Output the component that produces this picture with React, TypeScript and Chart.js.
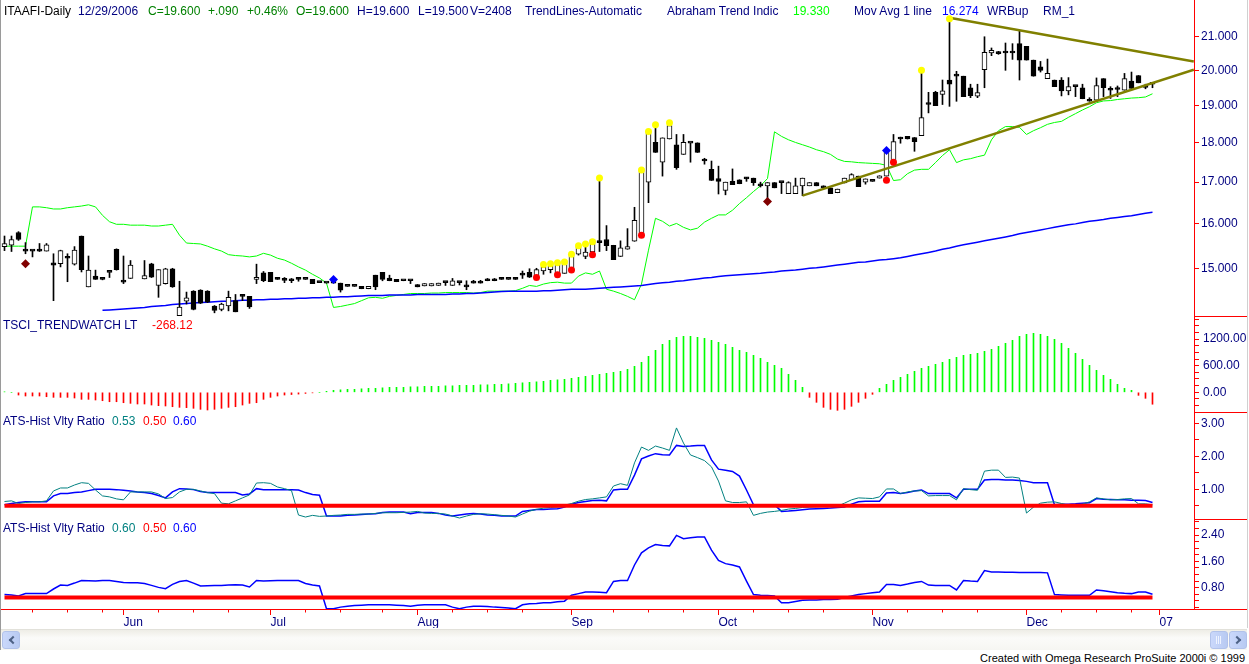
import React, { useEffect, useRef } from "react";
import { Chart, registerables } from "chart.js";

Chart.register(...registerables);

const FONT = '"Liberation Sans", Arial, sans-serif';

// ---------------- price bars (index 0 = first bar in May, 164 = 12/29/2006) ----------------
const OPEN = [
  15.48, 15.51, 15.80, 15.38, 15.38, 15.38, 15.38, 15.12, 15.10, 15.22,
  15.09, 15.72, 14.60, 14.83, 14.76, 14.91, 15.42, 14.70, 14.78, null,
  14.77, 15.10, 14.63, 14.67, 14.99, 14.00, 14.30, 14.51, 14.53, 14.51,
  14.20, 14.13, 14.20, 14.31, 14.40, 14.40, 14.76, 14.90, 14.91, 14.80,
  14.74, 14.73, 14.76, 14.76, 14.76, 14.69, 14.68, 14.68, 14.68, 14.61,
  14.61, 14.61, 14.56, 14.85, 14.91, 14.79, 14.76, 14.73, 14.73, 14.65,
  14.62, 14.62, 14.63, 14.69, 14.63, 14.69, 14.63, 14.68, 14.68, 14.73,
  14.73, 14.80, 14.76, 14.76, 14.85, 14.91, 14.83, 14.94, 14.97, 14.89,
  14.89, 14.97, 15.31, 15.26, 15.36, 15.57, 15.64, 15.51, 15.26, 15.42,
  15.60, 15.74, 17.00, 18.01, 17.50, 18.10, 17.95, 17.70, 17.99, 18.00,
  17.53, 17.32, 17.09, 16.80, 17.02, 17.06, 17.08, 17.10, 16.91, 16.91,
  16.99, 16.99, 16.72, 16.72, 16.91, 16.91, 16.99, 16.91, 16.86, 16.74,
  16.98, 17.06, 17.15, 17.00, 17.02, 17.10, 17.15, 17.48, 18.15, 18.17,
  18.14, 18.19, 19.03, 19.37, 19.31, 19.72, 19.83, 19.83, 19.50, 19.26,
  20.02, 20.51, 20.53, 20.51, 20.51, 20.79, 20.71, 20.30, 20.10, 19.76,
  19.72, 19.72, 19.41, 19.53, 19.50, 19.12, 19.15, 19.76, 19.43, 19.45,
  19.43, 19.69, 19.85, 19.56, 19.60,
];
const HIGH = [
  15.72, 15.72, 15.82, 15.57, 15.39, 15.55, 15.55, 15.32, 15.40, 15.32,
  15.48, 15.72, 15.27, 14.96, 14.77, 14.91, 15.43, 15.27, 15.17, null,
  15.17, 15.11, 14.97, 15.00, 15.00, 14.72, 14.49, 14.52, 14.54, 14.52,
  14.21, 14.26, 14.51, 14.44, 14.44, 14.40, 15.09, 14.93, 14.91, 14.80,
  14.80, 14.78, 14.80, 14.76, 14.76, 14.69, 14.68, 14.68, 14.68, 14.61,
  14.61, 14.61, 14.61, 14.85, 14.91, 14.85, 14.76, 14.73, 14.73, 14.65,
  14.67, 14.67, 14.68, 14.69, 14.78, 14.69, 14.73, 14.74, 14.74, 14.78,
  14.78, 14.80, 14.76, 14.80, 14.94, 14.99, 15.00, 15.08, 15.10, 15.12,
  15.17, 15.31, 15.50, 15.54, 15.64, 17.10, 15.96, 15.51, 15.61, 15.89,
  16.39, 17.32, 18.30, 18.49, 18.13, 18.53, 18.22, 18.22, 17.99, 18.00,
  17.60, 17.53, 17.40, 17.00, 17.33, 17.06, 17.12, 17.10, 17.00, 16.99,
  16.99, 16.99, 17.01, 17.10, 17.10, 16.99, 16.99, 16.91, 16.86, 16.83,
  17.10, 17.21, 17.15, 17.08, 17.02, 17.16, 17.82, 18.22, 18.15, 18.17,
  18.14, 20.00, 19.37, 19.40, 19.72, 21.59, 19.97, 19.83, 19.60, 19.60,
  21.00, 20.66, 20.56, 20.81, 20.79, 21.18, 20.71, 20.30, 20.26, 20.33,
  19.72, 19.79, 19.79, 19.53, 19.60, 19.22, 19.78, 19.76, 19.53, 19.55,
  19.91, 19.95, 19.85, 19.60, 19.60,
];
const LOW = [
  15.39, 15.37, 15.62, 15.32, 15.25, 15.37, 15.38, 14.31, 15.03, 14.71,
  15.07, 14.92, 14.60, 14.76, 14.75, 14.80, 14.96, 14.67, 14.78, null,
  14.77, 14.80, 14.38, 14.66, 14.59, 14.00, 14.24, 14.12, 14.25, 14.27,
  14.06, 14.10, 14.10, 14.08, 14.31, 14.15, 14.67, 14.71, 14.71, 14.76,
  14.69, 14.69, 14.72, 14.76, 14.67, 14.69, 14.68, 14.68, 14.49, 14.61,
  14.61, 14.56, 14.56, 14.54, 14.73, 14.73, 14.71, 14.73, 14.67, 14.60,
  14.62, 14.62, 14.63, 14.63, 14.63, 14.64, 14.54, 14.68, 14.68, 14.73,
  14.73, 14.76, 14.76, 14.76, 14.78, 14.80, 14.79, 14.87, 14.90, 14.89,
  14.89, 14.97, 15.29, 15.21, 15.36, 15.37, 15.39, 15.19, 15.26, 15.42,
  15.60, 15.74, 16.50, 17.75, 17.15, 18.10, 17.32, 17.70, 17.50, 17.75,
  17.45, 17.04, 16.71, 16.69, 16.94, 16.96, 17.02, 16.92, 16.88, 16.49,
  16.86, 16.72, 16.72, 16.72, 16.67, 16.91, 16.91, 16.86, 16.72, 16.74,
  16.98, 17.06, 16.89, 16.95, 17.02, 17.10, 17.15, 17.48, 17.99, 18.10,
  17.78, 18.19, 18.80, 19.00, 19.03, 18.98, 19.12, 19.25, 19.22, 19.22,
  19.50, 20.43, 20.47, 20.00, 20.32, 19.72, 20.30, 19.83, 19.95, 19.76,
  19.53, 19.27, 19.30, 19.25, 19.19, 19.12, 19.15, 19.25, 19.20, 19.25,
  19.43, 19.48, 19.64, 19.47, 19.50,
];
const CLOSE = [
  15.55, 15.64, 15.64, 15.38, 15.38, 15.38, 15.52, 15.07, 15.39, 15.22,
  15.40, 14.97, 14.96, 14.76, 14.76, 14.91, 14.97, 14.70, 15.07, null,
  14.84, 14.81, 14.97, 14.99, 14.60, 14.18, 14.37, 14.13, 14.26, 14.28,
  14.11, 14.24, 14.38, 14.08, 14.40, 14.18, 14.80, 14.73, 14.71, 14.76,
  14.74, 14.73, 14.76, 14.76, 14.67, 14.69, 14.68, 14.68, 14.53, 14.61,
  14.61, 14.56, 14.61, 14.60, 14.76, 14.73, 14.71, 14.73, 14.73, 14.60,
  14.67, 14.67, 14.68, 14.69, 14.73, 14.69, 14.60, 14.68, 14.68, 14.73,
  14.73, 14.76, 14.76, 14.76, 14.85, 14.81, 14.97, 15.03, 15.04, 15.07,
  15.17, 15.29, 15.50, 15.36, 15.64, 15.57, 15.50, 15.19, 15.45, 15.48,
  16.08, 17.31, 18.29, 17.75, 18.13, 18.46, 17.36, 18.01, 17.99, 17.75,
  17.53, 17.04, 17.02, 17.00, 16.94, 16.96, 17.08, 16.99, 16.91, 16.99,
  16.86, 16.99, 16.99, 16.91, 17.10, 16.99, 16.91, 16.86, 16.72, 16.83,
  17.10, 17.19, 16.89, 17.08, 17.02, 17.16, 17.82, 18.03, 18.10, 18.10,
  18.03, 18.67, 19.03, 19.00, 19.41, 19.60, 19.83, 19.25, 19.28, 19.36,
  20.53, 20.59, 20.49, 20.51, 20.51, 20.30, 20.30, 19.83, 20.00, 19.91,
  19.53, 19.41, 19.53, 19.53, 19.19, 19.12, 19.56, 19.50, 19.43, 19.45,
  19.76, 19.48, 19.64, 19.51, 19.60,
];

// ---------------- price-panel indicators ----------------
const ABRAHAM_TREND = [
  15.49, 15.49, 15.49, 15.49, 16.40, 16.40, 16.38, 16.35, 16.35, 16.38,
  16.40, 16.42, 16.45, 16.40, 16.20, 16.05, 15.99, 15.99, 15.97, 15.97,
  15.97, 15.95, 15.95, 15.97, 15.99, 15.74, 15.56, 15.55, 15.54, 15.49,
  15.43, 15.38, 15.30, 15.28, 15.27, 15.25, 15.27, 15.33, 15.29, 15.22,
  15.18, 15.11, 15.03, 14.96, 14.87, 14.79, 14.68, 14.17, 14.19, 14.22,
  14.25, 14.31, 14.37, 14.38, 14.36, 14.40, 14.42, 14.44, 14.46, 14.46,
  14.46, 14.47, 14.47, 14.48, 14.48, 14.48, 14.48, 14.47, 14.48, 14.51,
  14.51, 14.51, 14.51, 14.52, 14.57, 14.63, 14.61, 14.66, 14.69, 14.70,
  14.68, 14.68, 14.83, 14.90, 14.87, 14.94, 14.55, 14.51, 14.46, 14.40,
  14.33, 14.66, 15.40, 16.13, 16.06, 15.95, 16.01, 15.92, 15.86, 15.90,
  16.04, 16.13, 16.21, 16.21, 16.32, 16.48, 16.62, 16.77, 16.91, 17.09,
  18.29, 18.17, 18.08, 18.01, 17.95, 17.89, 17.82, 17.77, 17.70, 17.58,
  17.52, 17.51, 17.49, 17.48, 17.47, 17.46, 17.42, 17.04, 17.06, 17.21,
  17.30, 17.32, 17.32, 17.49, 17.67, 17.82, 17.49, 17.56, 17.59, 17.64,
  17.68, 18.08, 18.32, 18.43, 18.43, 18.41, 18.22, 18.32, 18.40, 18.49,
  18.54, 18.57, 18.68, 18.78, 18.88, 18.97, 19.08, 19.13, 19.14, 19.17,
  19.19, 19.21, 19.22, 19.24, 19.33,
];
const MOV_AVG = [
  null, null, null, null, null, null, null, null, null, null,
  null, null, null, null, 14.11, 14.12, 14.13, 14.14, 14.15, 14.16,
  14.17, 14.19, 14.20, 14.21, 14.23, 14.24, 14.25, 14.26, 14.27, 14.28,
  14.29, 14.30, 14.30, 14.31, 14.32, 14.32, 14.33, 14.33, 14.34, 14.34,
  14.35, 14.35, 14.36, 14.36, 14.37, 14.37, 14.38, 14.38, 14.39, 14.39,
  14.40, 14.41, 14.42, 14.42, 14.42, 14.43, 14.43, 14.43, 14.43, 14.44,
  14.44, 14.44, 14.44, 14.44, 14.45, 14.45, 14.46, 14.46, 14.47, 14.48,
  14.49, 14.50, 14.51, 14.51, 14.51, 14.51, 14.51, 14.52, 14.52, 14.53,
  14.54, 14.55, 14.55, 14.55, 14.56, 14.57, 14.58, 14.59, 14.60, 14.61,
  14.62, 14.63, 14.65, 14.67, 14.69, 14.70, 14.72, 14.73, 14.75, 14.77,
  14.79, 14.80, 14.82, 14.84, 14.85, 14.86, 14.87, 14.88, 14.89, 14.91,
  14.92, 14.94, 14.95, 14.96, 14.98, 15.00, 15.01, 15.03, 15.05, 15.07,
  15.09, 15.11, 15.13, 15.14, 15.16, 15.18, 15.19, 15.21, 15.23, 15.26,
  15.29, 15.32, 15.35, 15.38, 15.42, 15.45, 15.49, 15.52, 15.55, 15.58,
  15.61, 15.64, 15.67, 15.70, 15.73, 15.77, 15.80, 15.83, 15.86, 15.89,
  15.92, 15.95, 15.98, 16.00, 16.03, 16.06, 16.08, 16.10, 16.13, 16.15,
  16.17, 16.19, 16.22, 16.25, 16.27,
];
// trend lines: [bar, price] end points
const UPPER_TREND = [[135, 21.59], [169.9, 20.26]];
const LOWER_TREND = [[114, 16.67], [169.9, 20.02]];
// markers: [bar, price]
const YELLOW_DOTS = [
  [77, 15.08], [78, 15.10], [79, 15.12], [80, 15.14], [81, 15.31], [82, 15.50], [83, 15.54],
  [84, 15.59], [85, 17.10], [91, 17.30], [92, 18.30], [93, 18.48], [95, 18.53], [131, 20.0], [135, 21.56],
];
const RED_DOTS = [[76, 14.80], [79, 14.86], [81, 14.96], [84, 15.30], [91, 15.74], [126, 17.05], [127, 17.50]];
const DARK_RED_MARKS = [[3, 15.10], [109, 16.53]];
const BLUE_MARKS = [[47, 14.76], [126, 17.80]];

// ---------------- lower panels ----------------
const TSCI = [
  10, 0, -61, -83, -83, -83, -99, -113, -113, -113,
  -128, -158, -158, -173, -189, -212, -212, -234, -248, -263,
  -263, -286, -300, -308, -324, -338, -345, -360, -383, -398,
  -383, -360, -338, -324, -286, -248, -234, -158, -113, -83,
  -61, -50, -40, -25, -12, 0, 22, 45, 56, 68,
  68, 79, 90, 90, 101, 113, 113, 113, 124, 124,
  135, 135, 135, 146, 146, 158, 158, 158, 169, 169,
  180, 180, 191, 203, 214, 225, 236, 248, 270, 281,
  293, 315, 338, 360, 383, 405, 428, 450, 473, 518,
  585, 675, 810, 945, 1080, 1170, 1238, 1260, 1260, 1238,
  1215, 1170, 1125, 1080, 1013, 945, 900, 833, 765, 675,
  608, 540, 405, 270, 113, -113, -225, -338, -383, -405,
  -383, -315, -225, -135, -45, 90, 180, 270, 338, 405,
  473, 540, 585, 630, 675, 743, 788, 833, 855, 878,
  923, 968, 1035, 1103, 1170, 1260, 1305, 1328, 1305, 1260,
  1193, 1103, 990, 878, 743, 608, 495, 383, 293, 180,
  90, 45, -68, -135, -268.12,
];
const ATS1_FAST = [
  0.63, 0.65, 0.57, 0.60, 0.62, 0.62, 0.65, 0.95, 1.04, 1.04,
  1.13, 1.20, 1.18, 0.98, 0.80, 0.77, 0.71, 0.68, 0.92, 0.92,
  0.92, 0.92, 0.86, 0.72, 0.75, 0.92, 1.00, 1.00, 0.95, 0.90,
  0.87, 0.58, 0.56, 0.65, 0.74, 0.83, 1.19, 1.20, 1.18, 1.07,
  1.02, 0.96, 0.22, 0.16, 0.21, 0.18, 0.19, 0.21, 0.22, 0.24,
  0.24, 0.25, 0.25, 0.27, 0.29, 0.29, 0.29, 0.30, 0.31, 0.33,
  0.28, 0.27, 0.27, 0.25, 0.19, 0.13, 0.19, 0.24, 0.26, 0.25,
  0.23, 0.21, 0.19, 0.16, 0.25, 0.34, 0.39, 0.43, 0.45, 0.46,
  0.52, 0.57, 0.64, 0.69, 0.71, 0.74, 0.77, 1.10, 1.17, 1.12,
  1.80, 2.28, 2.18, 2.31, 2.25, 2.18, 2.86, 2.40, 2.04, 1.96,
  1.87, 1.68, 1.25, 0.65, 0.60, 0.60, 0.62, 0.21, 0.27, 0.31,
  0.33, 0.36, 0.40, 0.42, 0.45, 0.46, 0.47, 0.48, 0.48, 0.49,
  0.58, 0.68, 0.74, 0.73, 0.72, 0.77, 1.01, 1.01, 0.87, 0.92,
  0.95, 0.96, 0.80, 0.81, 0.81, 0.81, 0.68, 1.02, 0.99, 0.97,
  1.55, 1.58, 1.58, 1.36, 1.37, 1.34, 0.28, 0.46, 0.58, 0.61,
  0.62, 0.57, 0.52, 0.52, 0.55, 0.62, 0.74, 0.71, 0.68, 0.69,
  0.71, 0.72, 0.56, 0.56, 0.53,
];
const ATS1_SLOW = [
  0.53, 0.57, 0.60, 0.62, 0.62, 0.62, 0.62, 0.80, 0.87, 0.87,
  0.90, 0.92, 0.96, 1.00, 1.00, 1.00, 0.99, 0.97, 0.95, 0.92,
  0.90, 0.87, 0.81, 0.74, 0.92, 1.02, 1.01, 0.99, 0.93, 0.90,
  0.90, 0.90, 0.90, 0.90, 0.83, 0.86, 1.02, 0.99, 0.99, 0.99,
  0.99, 0.99, 0.98, 0.90, 0.84, 0.82, 0.19, 0.19, 0.19, 0.21,
  0.22, 0.24, 0.25, 0.26, 0.30, 0.31, 0.31, 0.31, 0.26, 0.30,
  0.30, 0.30, 0.27, 0.22, 0.19, 0.22, 0.25, 0.27, 0.25, 0.22,
  0.21, 0.19, 0.19, 0.19, 0.33, 0.36, 0.39, 0.39, 0.40, 0.41,
  0.46, 0.55, 0.60, 0.63, 0.66, 0.67, 0.65, 0.98, 1.00, 1.00,
  1.43, 1.92, 2.01, 2.08, 2.05, 2.04, 2.33, 2.30, 2.31, 2.33,
  2.33, 1.89, 1.61, 1.58, 1.54, 1.40, 0.98, 0.53, 0.53, 0.53,
  0.53, 0.33, 0.34, 0.36, 0.38, 0.40, 0.41, 0.42, 0.43, 0.45,
  0.46, 0.55, 0.62, 0.64, 0.64, 0.64, 0.89, 0.90, 0.87, 0.90,
  0.95, 0.98, 0.87, 0.87, 0.87, 0.87, 0.74, 1.00, 1.00, 1.00,
  1.28, 1.30, 1.30, 1.28, 1.28, 1.27, 1.24, 1.20, 1.20, 1.20,
  0.53, 0.55, 0.55, 0.56, 0.58, 0.59, 0.72, 0.70, 0.69, 0.68,
  0.68, 0.67, 0.67, 0.66, 0.60,
];
const ATS2_SLOW = [
  0.59, 0.58, 0.55, 0.62, 0.62, 0.62, 0.62, 0.76, 0.88, 0.87,
  0.94, 1.02, 1.01, 1.00, 1.02, 1.02, 0.99, 0.96, 0.95, 0.95,
  0.93, 0.87, 0.81, 0.77, 0.90, 0.99, 1.02, 0.94, 0.85, 0.86,
  0.87, 0.87, 0.88, 0.89, 0.88, 0.82, 1.02, 1.00, 1.01, 1.02,
  1.02, 1.02, 1.02, 0.93, 0.88, 0.85, 0.16, 0.16, 0.21, 0.24,
  0.26, 0.27, 0.28, 0.28, 0.28, 0.28, 0.27, 0.26, 0.24, 0.27,
  0.28, 0.28, 0.28, 0.28, 0.21, 0.16, 0.21, 0.24, 0.24, 0.23,
  0.21, 0.20, 0.18, 0.16, 0.28, 0.31, 0.32, 0.34, 0.34, 0.37,
  0.39, 0.57, 0.62, 0.67, 0.67, 0.66, 0.65, 0.99, 1.02, 1.02,
  1.49, 1.86, 2.01, 2.11, 2.08, 2.07, 2.39, 2.29, 2.32, 2.34,
  2.34, 1.94, 1.63, 1.53, 1.49, 1.43, 1.00, 0.59, 0.57, 0.56,
  0.55, 0.34, 0.34, 0.38, 0.42, 0.43, 0.43, 0.44, 0.44, 0.45,
  0.50, 0.55, 0.59, 0.62, 0.65, 0.67, 0.90, 0.90, 0.87, 0.91,
  0.96, 0.99, 0.88, 0.87, 0.87, 0.87, 0.73, 1.02, 1.00, 0.99,
  1.32, 1.28, 1.28, 1.27, 1.27, 1.26, 1.26, 1.26, 1.26, 1.25,
  0.59, 0.58, 0.57, 0.57, 0.57, 0.57, 0.73, 0.71, 0.68, 0.65,
  0.63, 0.62, 0.67, 0.67, 0.60,
];
const ATS_LEVEL = 0.5;

// ---------------- axes ----------------
const MONTH_TICK_BARS = [17, 38, 59, 81, 102, 124, 146, 165];
const MONTH_LABELS = ["Jun", "Jul", "Aug", "Sep", "Oct", "Nov", "Dec", "07"];
const WEEK_TICK_BARS = [4, 9, 14, 22, 27, 32, 43, 48, 54, 64, 69, 74, 87, 92, 97, 107, 112, 117, 129, 134, 139, 151, 156, 161];
const PRICE_TICKS = [15, 16, 17, 18, 19, 20, 21];
const TSCI_TICKS = [-300, -150, 0, 150, 300, 450, 600, 750, 900, 1050, 1200, 1350, 1500, 1650];
const TSCI_LABELED = [0, 600, 1200];
const ATS1_TICKS = [0.5, 1, 1.5, 2, 2.5, 3];
const ATS1_LABELED = [1, 2, 3];
const ATS2_TICKS = [0.2, 0.4, 0.6, 0.8, 1.0, 1.2, 1.4, 1.6, 1.8, 2.0, 2.2, 2.4, 2.6, 2.8];
const ATS2_LABELED = [0.8, 1.6, 2.4];

const has = (list: number[], v: number) => list.some((l) => Math.abs(l - v) < 1e-6);

const decorPlugin = {
  id: "decor",
  afterDraw(chart: any) {
    const { ctx, chartArea, scales } = chart;
    ctx.save();
    ctx.strokeStyle = "#ff0000";
    ctx.lineWidth = 1;
    ctx.beginPath();
    for (const id of ["yT", "yA", "yB"]) {
      const y = Math.round(scales[id].top) + 0.5;
      ctx.moveTo(chartArea.right, y);
      ctx.lineTo(1247, y);
    }
    const yb = Math.round(chartArea.bottom) + 0.5;
    ctx.moveTo(0, yb);
    ctx.lineTo(1247, yb);
    for (const b of WEEK_TICK_BARS) {
      const x = Math.round(scales.x.getPixelForValue(b)) + 0.5;
      ctx.moveTo(x, yb);
      ctx.lineTo(x, yb + 3);
    }
    ctx.stroke();
    ctx.restore();
  },
};

function yAxis(weight: number, stackWeight: number, extra: any, padding: number) {
  return {
    position: "right",
    stack: "panels",
    stackWeight,
    weight,
    offset: false,
    border: { display: true, color: "#ff0000", width: 1 },
    grid: { drawOnChartArea: false, drawTicks: true, tickLength: 5, color: "#ff0000", tickColor: "#ff0000" },
    afterFit: (s: any) => {
      s.width = 55;
      s.paddingTop = 0;
      s.paddingBottom = 0;
    },
    ...extra,
    ticks: {
      color: "#000080",
      font: { family: FONT, size: 12 },
      padding,
      autoSkip: false,
      ...(extra.ticks || {}),
    },
  };
}

function Txt(props: { x: number; y: number; c: string; t: string; size?: number }) {
  return (
    <div
      style={{
        position: "absolute",
        left: props.x,
        top: props.y,
        color: props.c,
        fontSize: props.size || 12,
        lineHeight: "14px",
        whiteSpace: "nowrap",
        fontFamily: FONT,
      }}
    >
      {props.t}
    </div>
  );
}

function Chevron(props: { left: boolean }) {
  return (
    <div
      style={{
        position: "absolute",
        left: props.left ? 7 : 4,
        top: 5,
        width: 4,
        height: 4,
        borderLeft: "2px solid #4d6185",
        borderBottom: "2px solid #4d6185",
        transform: props.left ? "rotate(45deg)" : "rotate(-135deg)",
      }}
    />
  );
}

const btnStyle = (left: number): React.CSSProperties => ({
  position: "absolute",
  left,
  top: 631,
  width: 16,
  height: 16,
  background: "linear-gradient(90deg,#cad8fb,#b8caf2)",
  border: "1px solid #b1c2ea",
  borderRadius: 3,
});

export default function App() {
  const canvasRef = useRef<HTMLCanvasElement | null>(null);

  useEffect(() => {
    const canvas = canvasRef.current;
    if (!canvas) return;
    const valid = OPEN.map((_, i) => i).filter((i) => OPEN[i] !== null);
    const wicks = valid.map((i) => ({ x: i, y: [LOW[i], HIGH[i]] }));
    const bodies = valid.map((i) => ({ x: i, y: [OPEN[i], CLOSE[i]] }));
    const series = (arr: (number | null)[]) => arr.map((v, i) => ({ x: i, y: v }));
    const pts = (arr: number[][]) => arr.map(([x, y]) => ({ x, y }));
    const level = [{ x: 0, y: ATS_LEVEL }, { x: OPEN.length - 1, y: ATS_LEVEL }];
    const lineBase = { type: "line", pointRadius: 0, tension: 0, fill: false, spanGaps: false };
    const marker = (data: number[][], color: string, style: string, r: number, order: number) => ({
      type: "line",
      data: pts(data),
      showLine: false,
      pointStyle: style,
      pointRadius: r,
      pointBackgroundColor: color,
      pointBorderColor: color,
      pointBorderWidth: 0,
      yAxisID: "yP",
      order,
    });

    const chart = new Chart(canvas, {
      type: "bar",
      data: {
        datasets: [
          marker(YELLOW_DOTS, "#ffff00", "circle", 3.5, 0),
          marker(RED_DOTS, "#ff0000", "circle", 3.5, 0),
          marker(DARK_RED_MARKS, "#800000", "rectRot", 4.5, 0),
          marker(BLUE_MARKS, "#0000ff", "rectRot", 4.5, 0),
          { ...lineBase, data: pts(UPPER_TREND), borderColor: "#808000", borderWidth: 2.5, yAxisID: "yP", order: 2 },
          { ...lineBase, data: pts(LOWER_TREND), borderColor: "#808000", borderWidth: 2.5, yAxisID: "yP", order: 2 },
          {
            type: "bar",
            data: bodies,
            yAxisID: "yP",
            grouped: false,
            barThickness: 5,
            minBarLength: 2,
            borderSkipped: false,
            borderWidth: 1,
            borderColor: "#000000",
            backgroundColor: (c: any) => (c.raw && c.raw.y[1] > c.raw.y[0] ? "#ffffff" : "#000000"),
            order: 3,
          },
          {
            type: "bar",
            data: wicks,
            yAxisID: "yP",
            grouped: false,
            barThickness: 1,
            borderWidth: 0,
            backgroundColor: "#000000",
            order: 4,
          },
          { ...lineBase, data: series(MOV_AVG), borderColor: "#0000ff", borderWidth: 1.5, yAxisID: "yP", order: 5 },
          { ...lineBase, data: series(ABRAHAM_TREND), borderColor: "#00ff00", borderWidth: 1, yAxisID: "yP", order: 6 },
          {
            type: "bar",
            data: series(TSCI),
            yAxisID: "yT",
            grouped: false,
            barThickness: 1,
            borderWidth: 0,
            backgroundColor: (c: any) => (c.raw && c.raw.y < 0 ? "#ff0000" : "#00ff00"),
            order: 7,
          },
          { ...lineBase, data: level, borderColor: "#ff0000", borderWidth: 4, yAxisID: "yA", order: 8 },
          { ...lineBase, data: series(ATS1_FAST), borderColor: "#008080", borderWidth: 1, yAxisID: "yA", order: 9 },
          { ...lineBase, data: series(ATS1_SLOW), borderColor: "#0000ff", borderWidth: 1.5, yAxisID: "yA", order: 10 },
          { ...lineBase, data: level, borderColor: "#ff0000", borderWidth: 4, yAxisID: "yB", order: 8 },
          { ...lineBase, data: series(ATS2_SLOW), borderColor: "#0000ff", borderWidth: 1.5, yAxisID: "yB", order: 10 },
        ] as any,
      },
      options: {
        responsive: false,
        maintainAspectRatio: false,
        animation: false,
        events: [],
        layout: { padding: { left: 1, right: 0, top: 0, bottom: 0 }, autoPadding: false },
        plugins: { legend: { display: false }, tooltip: { enabled: false }, title: { display: false } },
        scales: {
          x: {
            type: "linear",
            position: "bottom",
            min: -0.5,
            max: 169.93,
            offset: false,
            border: { display: true, color: "#ff0000", width: 1 },
            grid: { drawOnChartArea: false, drawTicks: true, tickLength: 6, color: "#ff0000", tickColor: "#ff0000", offset: false },
            afterBuildTicks: (s: any) => {
              s.ticks = MONTH_TICK_BARS.map((v) => ({ value: v }));
            },
            afterFit: (s: any) => {
              s.height = 19;
              s.paddingLeft = 0;
              s.paddingRight = 0;
            },
            ticks: {
              autoSkip: false,
              maxRotation: 0,
              minRotation: 0,
              align: "start",
              padding: 0,
              color: "#000080",
              font: { family: FONT, size: 12 },
              callback: (_v: any, i: number) => MONTH_LABELS[i],
            },
          },
          yP: yAxis(1, 316, {
            type: "logarithmic",
            min: 13.995,
            max: 22.152,
            afterBuildTicks: (s: any) => {
              s.ticks = PRICE_TICKS.map((v) => ({ value: v }));
            },
            ticks: { callback: (v: any) => Number(v).toFixed(3) },
          }, 2),
          yT: yAxis(2, 96, {
            type: "linear",
            min: -443,
            max: 1718,
            afterBuildTicks: (s: any) => {
              s.ticks = TSCI_TICKS.map((v) => ({ value: v }));
            },
            ticks: { callback: (v: any) => (has(TSCI_LABELED, Number(v)) ? Number(v).toFixed(2) : "") },
          }, 4),
          yA: yAxis(3, 107, {
            type: "linear",
            min: 0.1,
            max: 3.342,
            afterBuildTicks: (s: any) => {
              s.ticks = ATS1_TICKS.map((v) => ({ value: v }));
            },
            ticks: { callback: (v: any) => (has(ATS1_LABELED, Number(v)) ? Number(v).toFixed(2) : "") },
          }, 2),
          yB: yAxis(4, 90, {
            type: "linear",
            min: 0.153,
            max: 2.886,
            afterBuildTicks: (s: any) => {
              s.ticks = ATS2_TICKS.map((v) => ({ value: v }));
            },
            ticks: { callback: (v: any) => (has(ATS2_LABELED, Number(v)) ? Number(v).toFixed(2) : "") },
          }, 2),
        } as any,
      },
      plugins: [decorPlugin],
    } as any);
    return () => chart.destroy();
  }, []);

  return (
    <div
      style={{
        position: "absolute",
        left: 0,
        top: 0,
        width: 1249,
        height: 664,
        background: "#ffffff",
        overflow: "hidden",
        fontFamily: FONT,
      }}
    >
      <canvas ref={canvasRef} width={1249} height={628} style={{ position: "absolute", left: 0, top: 0, width: 1249, height: 628 }} />
      {/* window frame lines */}
      <div style={{ position: "absolute", left: 0, top: 0, width: 1, height: 650, background: "#9a9a9a" }} />
      <div style={{ position: "absolute", left: 1247, top: 0, width: 1, height: 628, background: "#d0d0d0" }} />

      {/* header */}
      <Txt x={4} y={4} c="#000000" t="ITAAFI-Daily" />
      <Txt x={78} y={4} c="#000080" t="12/29/2006" />
      <Txt x={148} y={4} c="#008000" t="C=19.600" />
      <Txt x={208} y={4} c="#008000" t="+.090" />
      <Txt x={247} y={4} c="#008000" t="+0.46%" />
      <Txt x={296} y={4} c="#008000" t="O=19.600" />
      <Txt x={357} y={4} c="#000080" t="H=19.600" />
      <Txt x={418} y={4} c="#000080" t="L=19.500" />
      <Txt x={470} y={4} c="#000080" t="V=2408" />
      <Txt x={525} y={4} c="#000080" t="TrendLines-Automatic" />
      <Txt x={667} y={4} c="#000080" t="Abraham Trend Indic" />
      <Txt x={793} y={4} c="#00ff00" t="19.330" />
      <Txt x={854} y={4} c="#000080" t="Mov Avg 1 line" />
      <Txt x={942} y={4} c="#0000ff" t="16.274" />
      <Txt x={987} y={4} c="#000080" t="WRBup" />
      <Txt x={1043} y={4} c="#000080" t="RM_1" />

      {/* panel labels */}
      <Txt x={3} y={318} c="#000080" t="TSCI_TRENDWATCH LT" />
      <Txt x={152} y={318} c="#ff0000" t="-268.12" />
      <Txt x={3} y={414} c="#000080" t="ATS-Hist Vlty Ratio" />
      <Txt x={112} y={414} c="#008080" t="0.53" />
      <Txt x={143} y={414} c="#ff0000" t="0.50" />
      <Txt x={173} y={414} c="#0000ff" t="0.60" />
      <Txt x={3} y={521} c="#000080" t="ATS-Hist Vlty Ratio" />
      <Txt x={112} y={521} c="#008080" t="0.60" />
      <Txt x={143} y={521} c="#ff0000" t="0.50" />
      <Txt x={173} y={521} c="#0000ff" t="0.60" />

      {/* scrollbar */}
      <div
        style={{
          position: "absolute",
          left: 1,
          top: 629,
          width: 1246,
          height: 20,
          background: "linear-gradient(#eeede6,#fbfbf9 40%,#f6f6f2)",
          borderTop: "1px solid #e2e1da",
        }}
      />
      <div style={btnStyle(2)}>
        <Chevron left={true} />
      </div>
      <div style={btnStyle(1210)}>
        <div style={{ position: "absolute", left: 5, top: 4, width: 1, height: 8, background: "#eef3ff", boxShadow: "2px 0 0 #eef3ff, 4px 0 0 #eef3ff" }} />
      </div>
      <div style={btnStyle(1229)}>
        <Chevron left={false} />
      </div>

      {/* footer */}
      <div
        style={{
          position: "absolute",
          left: 0,
          top: 652,
          width: 1245,
          textAlign: "right",
          fontSize: 11,
          lineHeight: "13px",
          color: "#000000",
          fontFamily: FONT,
          whiteSpace: "nowrap",
        }}
      >
        Created with Omega Research ProSuite 2000i © 1999
      </div>
    </div>
  );
}
